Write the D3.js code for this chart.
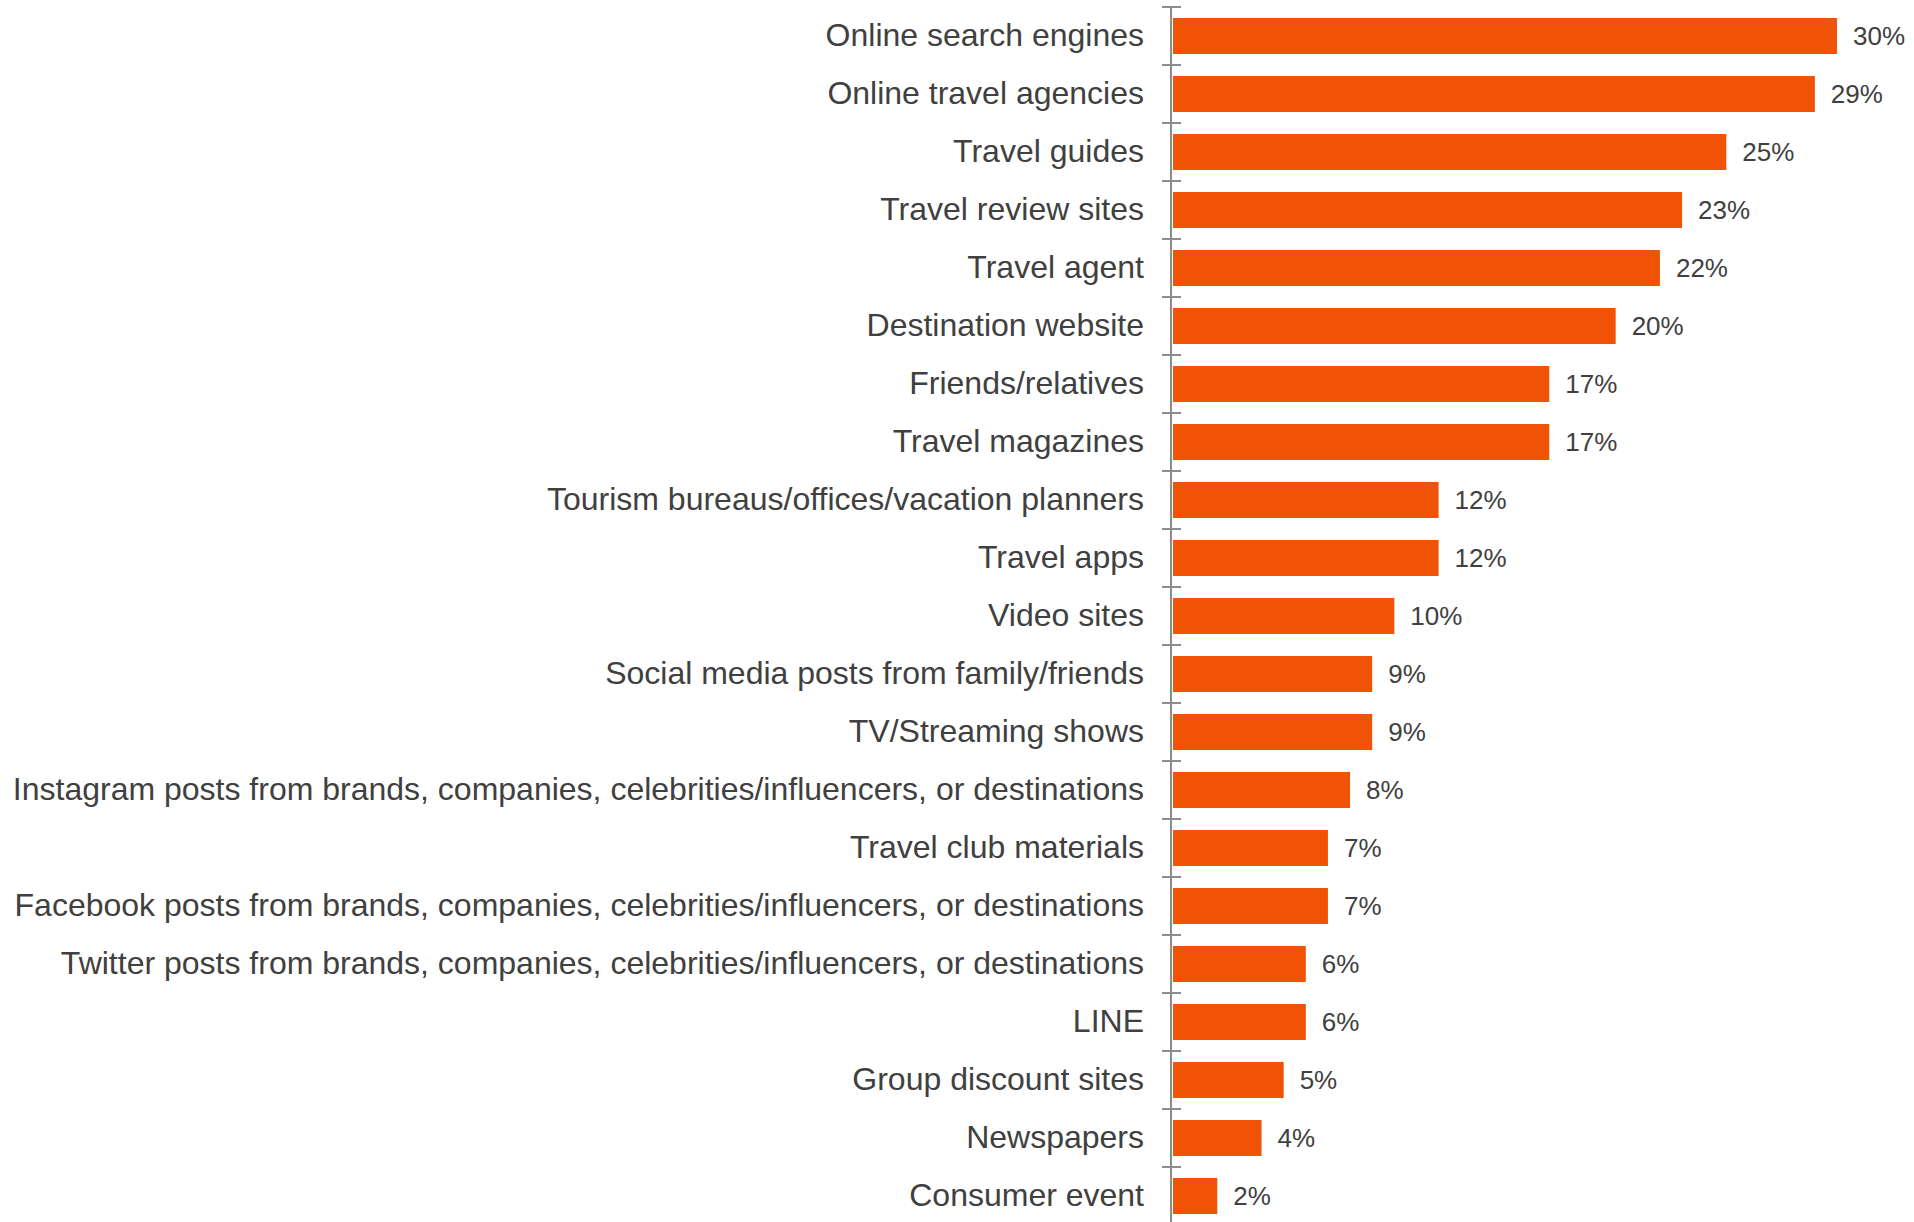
<!DOCTYPE html>
<html>
<head>
<meta charset="utf-8">
<script src="https://cdn.jsdelivr.net/npm/d3@7/dist/d3.min.js"></script>
<style>
  html, body { margin: 0; padding: 0; background: #fff; }
  svg { display: block; }
  text { font-family: "Liberation Sans", Arial, sans-serif; }
</style>
</head>
<body>
<svg id="chart" width="1914" height="1222"></svg>
<script>
// Information sources used when planning a trip (share of respondents, %)
const categories = [
  "Online search engines",
  "Online travel agencies",
  "Travel guides",
  "Travel review sites",
  "Travel agent",
  "Destination website",
  "Friends/relatives",
  "Travel magazines",
  "Tourism bureaus/offices/vacation planners",
  "Travel apps",
  "Video sites",
  "Social media posts from family/friends",
  "TV/Streaming shows",
  "Instagram posts from brands, companies, celebrities/influencers, or destinations",
  "Travel club materials",
  "Facebook posts from brands, companies, celebrities/influencers, or destinations",
  "Twitter posts from brands, companies, celebrities/influencers, or destinations",
  "LINE",
  "Group discount sites",
  "Newspapers",
  "Consumer event"
];
const values = [30, 29, 25, 23, 22, 20, 17, 17, 12, 12, 10, 9, 9, 8, 7, 7, 6, 6, 5, 4, 2];

const svg = d3.select("#chart");
const axisX = 1171;
const barX0 = 1173;
const plotTop = 7, plotBottom = 1225;

const x = d3.scaleLinear().domain([0, 30]).range([barX0, 1837]);
const y = d3.scaleBand().domain(categories).range([plotTop, plotBottom]).paddingInner(0.38).paddingOuter(0.19);

// bars
svg.append("g").selectAll("rect")
  .data(categories)
  .join("rect")
  .attr("x", x(0))
  .attr("y", d => y(d))
  .attr("width", (d, i) => x(values[i]) - x(0))
  .attr("height", y.bandwidth())
  .attr("fill", "#F05206");

// value labels
svg.append("g").selectAll("text")
  .data(categories)
  .join("text")
  .attr("x", (d, i) => x(values[i]) + 16)
  .attr("y", d => y(d) + y.bandwidth() / 2)
  .attr("dy", "0.33em")
  .attr("font-size", 26)
  .attr("fill", "#404040")
  .text((d, i) => values[i] + "%");

// category axis with ticks between bands
const axisG = svg.append("g");
axisG.append("line")
  .attr("x1", axisX).attr("x2", axisX)
  .attr("y1", plotTop).attr("y2", plotBottom)
  .attr("stroke", "#8c8c8c").attr("stroke-width", 2);

const step = y.step();
const boundaries = d3.range(categories.length + 1).map(i => plotTop + i * step);
axisG.selectAll("line.tick")
  .data(boundaries)
  .join("line")
  .attr("class", "tick")
  .attr("x1", 1162).attr("x2", 1181)
  .attr("y1", d => d).attr("y2", d => d)
  .attr("stroke", "#8c8c8c").attr("stroke-width", 2);

// category labels
axisG.selectAll("text")
  .data(categories)
  .join("text")
  .attr("x", 1144)
  .attr("y", d => y(d) + y.bandwidth() / 2)
  .attr("dy", "0.30em")
  .attr("text-anchor", "end")
  .attr("font-size", 32)
  .attr("fill", "#404040")
  .text(d => d);
</script>
</body>
</html>
